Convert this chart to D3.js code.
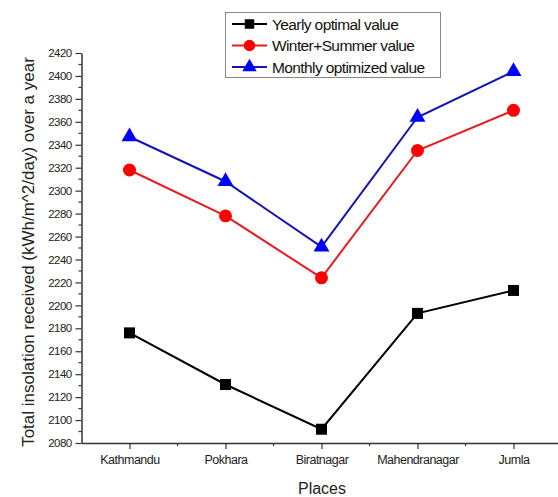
<!DOCTYPE html>
<html>
<head>
<meta charset="utf-8">
<script src="https://cdn.jsdelivr.net/npm/d3@7"></script>
<style>
  html, body { margin: 0; padding: 0; background: #fff; }
  svg { display: block; font-family: "Liberation Sans", Arial, sans-serif; }
</style>
</head>
<body>
<svg id="chart" width="558" height="497"></svg>
<script>
const places = ["Kathmandu", "Pokhara", "Biratnagar", "Mahendranagar", "Jumla"];
const yearlyValues = [2176, 2131, 2092, 2193, 2213];
const winterSummerValues = [2318, 2278, 2224, 2335, 2370];
const monthlyValues = [2347, 2308, 2251, 2364, 2404];
const yTicks = [2080, 2100, 2120, 2140, 2160, 2180, 2200, 2220, 2240, 2260, 2280, 2300, 2320, 2340, 2360, 2380, 2400, 2420];
const seriesNames = ["Yearly optimal value", "Winter+Summer value", "Monthly optimized value"];

const series = [
  { name: seriesNames[0], values: yearlyValues, line: "#000000", fill: "#000000", symbol: d3.symbolSquare, size: 121, legendSize: 90 },
  { name: seriesNames[1], values: winterSummerValues, line: "#e81c1c", fill: "#ff0000", symbol: d3.symbolCircle, size: 132, legendSize: 105 },
  { name: seriesNames[2], values: monthlyValues, line: "#1414b4", fill: "#0000ff", symbol: d3.symbolTriangle, size: 110, legendSize: 90 }
];

const svg = d3.select("#chart");
const x0 = 81.5, xEnd = 561.5, yTop = 53, yBot = 443;

const x = d3.scalePoint().domain(places).range([x0, xEnd]).padding(0.5);
const y = d3.scaleLinear().domain([2080, 2420]).range([yBot, yTop]);

// Y minor ticks
const yMinor = d3.range(2090, 2420, 20);
svg.append("g").selectAll("line").data(yMinor).join("line")
  .attr("x1", x0 - 3).attr("x2", x0)
  .attr("y1", d => y(d)).attr("y2", d => y(d))
  .attr("stroke", "#333").attr("stroke-width", 1.2);

// X minor ticks (midpoints)
const xMinor = places.slice(0, -1).map((p, i) => (x(p) + x(places[i + 1])) / 2);
svg.append("g").selectAll("line").data(xMinor).join("line")
  .attr("x1", d => d).attr("x2", d => d)
  .attr("y1", yBot).attr("y2", yBot + 3)
  .attr("stroke", "#333").attr("stroke-width", 1.2);

// Y axis
const yAxis = svg.append("g").attr("transform", `translate(${x0},0)`)
  .call(d3.axisLeft(y).tickValues(yTicks).tickFormat(d3.format("d")).tickSize(6).tickSizeOuter(0).tickPadding(4));
yAxis.select(".domain").attr("stroke", "#333").attr("stroke-width", 1.5);
yAxis.selectAll(".tick line").attr("stroke", "#333").attr("stroke-width", 1.2);
yAxis.selectAll(".tick text").attr("font-size", 11.5).attr("fill", "#222")
  .attr("font-family", "'Liberation Sans', Arial, sans-serif").attr("letter-spacing", -0.6);

// X axis
const xAxis = svg.append("g").attr("transform", `translate(0,${yBot})`)
  .call(d3.axisBottom(x).tickSize(6).tickSizeOuter(0).tickPadding(6));
xAxis.select(".domain").attr("stroke", "#333").attr("stroke-width", 1.5);
xAxis.selectAll(".tick line").attr("stroke", "#333").attr("stroke-width", 1.2);
xAxis.selectAll(".tick text").attr("font-size", 12.5).attr("fill", "#222")
  .attr("font-family", "'Liberation Sans', Arial, sans-serif").attr("letter-spacing", -0.5);

// Axis titles
svg.append("text").attr("x", 322).attr("y", 494).attr("text-anchor", "middle")
  .attr("font-size", 16).attr("fill", "#222").text("Places");
svg.append("text").attr("transform", "translate(34,252) rotate(-90)").attr("text-anchor", "middle")
  .attr("font-size", 17).attr("fill", "#222").text("Total insolation received (kWh/m^2/day) over a year");

// Lines and markers
const line = d3.line().x((d, i) => x(places[i])).y(d => y(d));
series.forEach(s => {
  svg.append("path").datum(s.values).attr("d", line)
    .attr("fill", "none").attr("stroke", s.line).attr("stroke-width", 2);
  svg.append("g").selectAll("path").data(s.values).join("path")
    .attr("transform", (d, i) => `translate(${x(places[i])},${y(d)})`)
    .attr("d", d3.symbol().type(s.symbol).size(s.size)())
    .attr("fill", s.fill);
});

// Legend
const legend = svg.append("g");
legend.append("rect").attr("x", 225.5).attr("y", 12.5).attr("width", 215).attr("height", 65)
  .attr("fill", "#fff").attr("stroke", "#888").attr("stroke-width", 1);
series.forEach((s, i) => {
  const ly = 24 + i * 21.5;
  legend.append("line").attr("x1", 232).attr("x2", 267).attr("y1", ly).attr("y2", ly)
    .attr("stroke", s.line).attr("stroke-width", 2);
  legend.append("path").attr("transform", `translate(249.5,${ly})`)
    .attr("d", d3.symbol().type(s.symbol).size(s.legendSize)()).attr("fill", s.fill);
  legend.append("text").attr("x", 272).attr("y", ly + 5.5).attr("font-size", 15.5)
    .attr("fill", "#111").attr("letter-spacing", -0.6).text(s.name);
});
</script>
</body>
</html>
